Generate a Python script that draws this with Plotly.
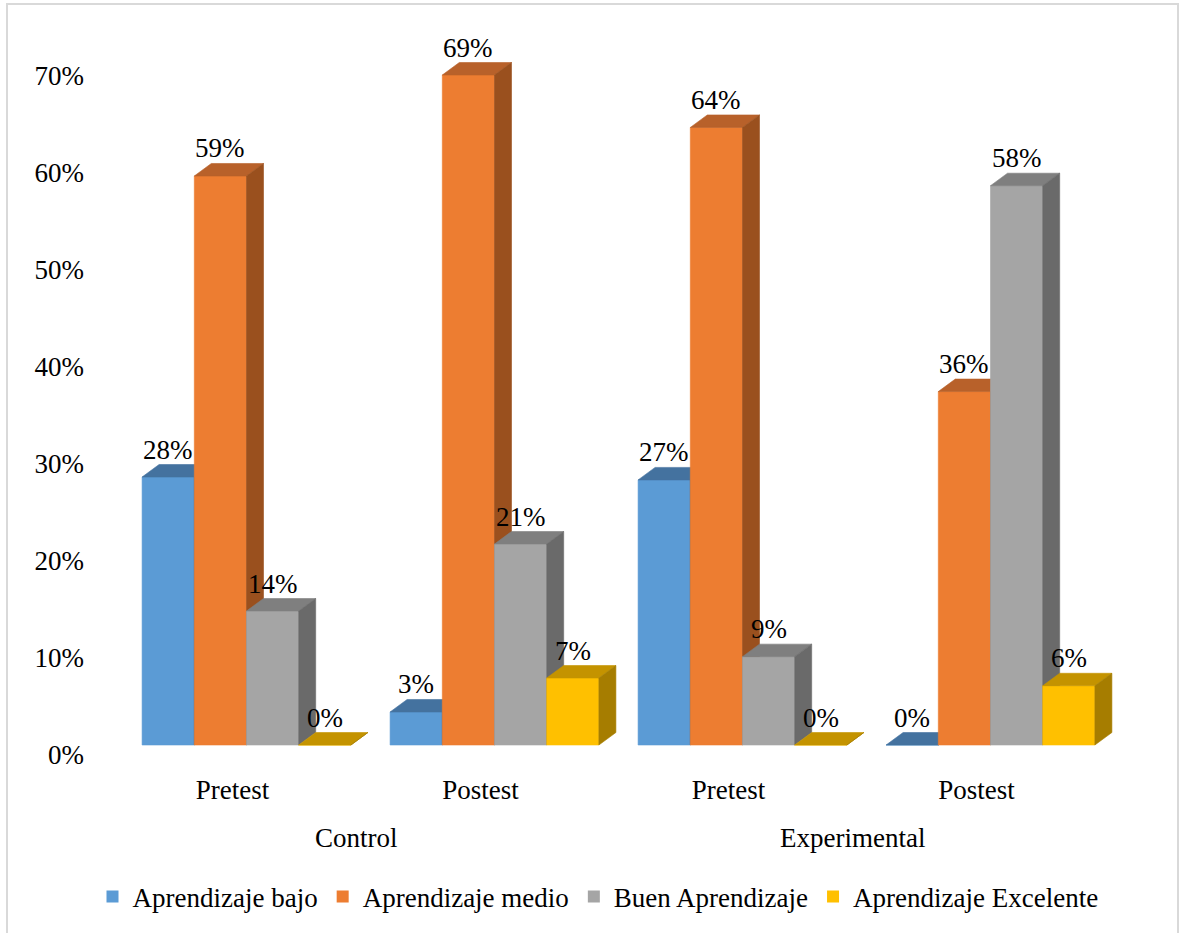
import plotly.graph_objects as go

# ---------------- data ----------------
categories = ["Pretest", "Postest", "Pretest", "Postest"]
groups = ["Control", "Experimental"]
group_centers = [0.5, 2.5]
series_names = ["Aprendizaje bajo", "Aprendizaje medio", "Buen Aprendizaje", "Aprendizaje Excelente"]
bajo = [27.6, 3.4, 27.3, 0.0]
medio = [58.6, 69.0, 63.6, 36.4]
buen = [13.8, 20.7, 9.1, 57.6]
excelente = [0.0, 6.9, 0.0, 6.1]
y_ticks = [0, 10, 20, 30, 40, 50, 60, 70]
y_tick_labels = ["0%", "10%", "20%", "30%", "40%", "50%", "60%", "70%"]

series_values = [bajo, medio, buen, excelente]

# ---------------- style ----------------
front_colors = ["#5B9BD5", "#ED7D31", "#A5A5A5", "#FFC000"]
top_colors = ["#44729F", "#B8612A", "#7F7F7F", "#C49300"]
side_colors = ["#3A6189", "#9A501E", "#6A6A6A", "#A67D00"]
FONT = "Liberation Serif, Times New Roman, serif"
FS = 27

W, H = 1181, 933
L, R, T, B = 100, 1130, 40, 760
PX_PER_CAT = 248.0
CAT0_PX = 232.5
ZERO_PX = 745.0
PX_PER_PCT = 9.71

x_range = [(L - CAT0_PX) / PX_PER_CAT, (R - CAT0_PX) / PX_PER_CAT]
y_range = [-(B - ZERO_PX) / PX_PER_PCT, (ZERO_PX - T) / PX_PER_PCT]

bar_w = 52.2 / PX_PER_CAT
grp_off = 14.0 / PX_PER_CAT
dx = 17.0 / PX_PER_CAT
dy = 12.5 / PX_PER_PCT

fig = go.Figure()

# legend entries
for name, c in zip(series_names, front_colors):
    fig.add_trace(go.Scatter(x=[None], y=[None], mode="markers", name=name,
                             marker=dict(symbol="square", size=12, color=c)))

annotations = []
for k in range(len(categories)):
    start = k + grp_off - 2 * bar_w
    for s, vals in enumerate(series_values):
        v = vals[k]
        x0 = start + s * bar_w
        x1 = x0 + bar_w
        # front face
        fig.add_trace(go.Scatter(x=[x0, x1, x1, x0, x0], y=[0, 0, v, v, 0], mode="lines",
                                 fill="toself", fillcolor=front_colors[s],
                                 line=dict(color=front_colors[s], width=0.6),
                                 hoverinfo="skip", showlegend=False))
        # top face
        fig.add_trace(go.Scatter(x=[x0, x1, x1 + dx, x0 + dx, x0], y=[v, v, v + dy, v + dy, v],
                                 mode="lines", fill="toself", fillcolor=top_colors[s],
                                 line=dict(color=top_colors[s], width=0.6),
                                 hoverinfo="skip", showlegend=False))
        # side face
        fig.add_trace(go.Scatter(x=[x1, x1 + dx, x1 + dx, x1, x1], y=[0, dy, v + dy, v, 0],
                                 mode="lines", fill="toself", fillcolor=side_colors[s],
                                 line=dict(color=side_colors[s], width=0.6),
                                 hoverinfo="skip", showlegend=False))
        annotations.append(dict(x=(x0 + x1) / 2, y=v + dy, xref="x", yref="y",
                                text=f"{int(round(v))}%", showarrow=False,
                                yshift=15, font=dict(family=FONT, size=FS, color="black")))

for g, gc in zip(groups, group_centers):
    annotations.append(dict(x=gc, y=(B - 838) / (B - T), xref="x", yref="paper",
                            text=g, showarrow=False, yanchor="middle",
                            font=dict(family=FONT, size=FS, color="black")))

fig.update_layout(
    width=W, height=H,
    margin=dict(l=L, r=W - R, t=T, b=H - B),
    paper_bgcolor="white", plot_bgcolor="white",
    font=dict(family=FONT, size=FS, color="black"),
    xaxis=dict(range=x_range, tickvals=[0, 1, 2, 3], ticktext=categories,
               showgrid=False, zeroline=False, showline=False, ticks="",
               ticklabelstandoff=11, tickfont=dict(family=FONT, size=FS, color="black"),
               fixedrange=True),
    yaxis=dict(range=y_range, tickvals=y_ticks, ticktext=y_tick_labels,
               showgrid=False, zeroline=False, showline=False, ticks="",
               ticklabelstandoff=15, ticklabelshift=10,
               tickfont=dict(family=FONT, size=FS, color="black"), fixedrange=True),
    legend=dict(orientation="h", x=(598 - L) / (R - L), xanchor="center",
                y=(B - 897) / (B - T), yanchor="middle",
                font=dict(family=FONT, size=FS, color="black"), itemwidth=30,
                bgcolor="rgba(0,0,0,0)"),
    annotations=annotations,
    shapes=[dict(type="rect", xref="paper", yref="paper",
                 x0=(7 - L) / (R - L), x1=(1178 - L) / (R - L),
                 y0=(B - 940) / (B - T), y1=(B - 4) / (B - T),
                 line=dict(color="#D9D9D9", width=2), layer="below")],
    showlegend=True,
)

fig.write_html("out.html")
